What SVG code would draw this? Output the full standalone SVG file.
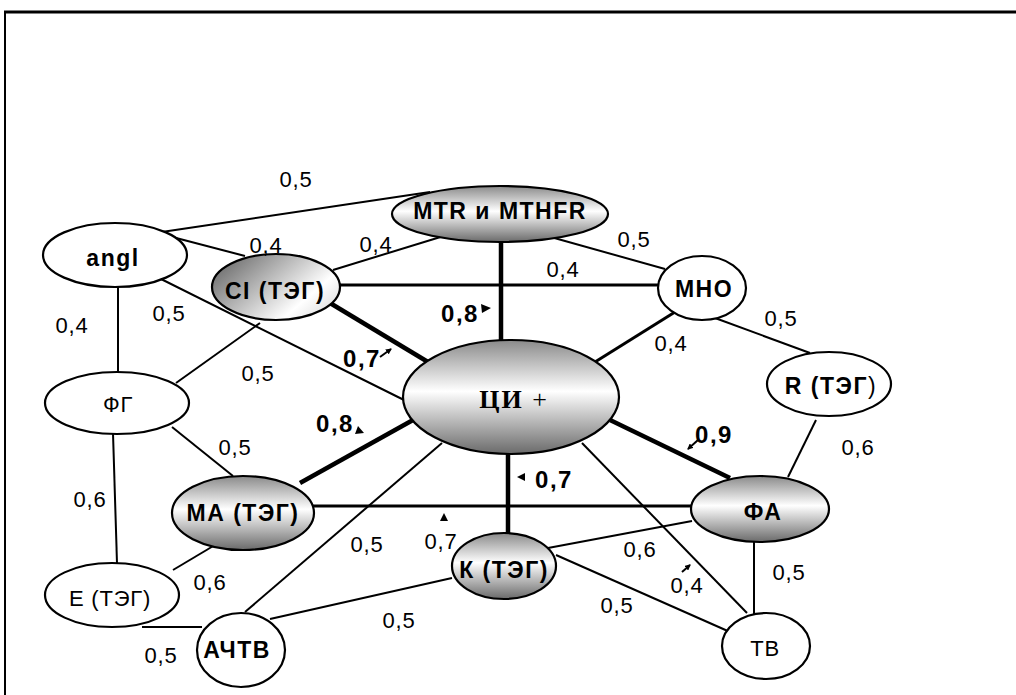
<svg xmlns="http://www.w3.org/2000/svg" width="1016" height="695" viewBox="0 0 1016 695">
<style>
.e{stroke:#000;stroke-width:2.2;fill:#fff}
.g{fill:url(#gv)}
.gc{fill:url(#gd)}
.t{font-family:"Liberation Sans",Arial,sans-serif;font-size:22px;letter-spacing:0.8px;text-anchor:middle;fill:#000}
.b{font-family:"Liberation Sans",Arial,sans-serif;font-size:23px;font-weight:bold;letter-spacing:1.5px;text-anchor:middle;fill:#000}
.w{font-family:"Liberation Sans",Arial,sans-serif;font-size:24px;font-weight:bold;letter-spacing:1.5px;text-anchor:middle;fill:#000}
.c line{stroke:#000;stroke-width:2}
.c .m{stroke-width:3}
.c .k{stroke-width:4.5}
.ar{fill:#000}
</style>
<defs>
<linearGradient id="gv" x1="0" y1="0" x2="0" y2="1">
<stop offset="0" stop-color="#8a8a8a"/>
<stop offset="0.45" stop-color="#ffffff"/>
<stop offset="1" stop-color="#6a6a6a"/>
</linearGradient>
<linearGradient id="gd" x1="0" y1="0.2" x2="1" y2="0.8">
<stop offset="0" stop-color="#6a6a6a"/>
<stop offset="0.75" stop-color="#ffffff"/>
<stop offset="1" stop-color="#dddddd"/>
</linearGradient>
<marker id="ah" markerWidth="6" markerHeight="6" refX="5" refY="3" orient="auto" markerUnits="userSpaceOnUse">
<path d="M0,0 L6,3 L0,6 Z" fill="#000"/>
</marker>
</defs>
<rect width="1016" height="695" fill="#fff"/>
<g id="frame">
<line x1="4" y1="12" x2="1016" y2="12" stroke="#000" stroke-width="3"/>
<line x1="5" y1="11" x2="5" y2="695" stroke="#000" stroke-width="2"/>
</g>
<g id="connectors" class="c">
<line x1="155" y1="233" x2="430" y2="192"/>
<line x1="157" y1="233" x2="245" y2="256"/>
<line x1="157" y1="277" x2="404" y2="400"/>
<line x1="447" y1="235" x2="333" y2="270"/>
<line x1="540" y1="234" x2="665" y2="269"/>
<line class="m" x1="330" y1="285" x2="660" y2="285"/>
<line class="k" x1="501" y1="242" x2="501" y2="341"/>
<line class="k" x1="330" y1="303" x2="428" y2="362"/>
<line class="m" x1="675" y1="312" x2="595" y2="362"/>
<line x1="715" y1="318" x2="810" y2="353"/>
<line x1="816" y1="420" x2="788" y2="477"/>
<line class="k" x1="610" y1="420" x2="730" y2="478"/>
<line x1="118" y1="287" x2="118" y2="373"/>
<line x1="260" y1="323" x2="176" y2="383"/>
<line x1="172" y1="427" x2="233" y2="476"/>
<line x1="113" y1="433" x2="117" y2="563"/>
<line x1="220" y1="542" x2="173" y2="570"/>
<line x1="142" y1="627" x2="202" y2="627"/>
<line x1="245" y1="612" x2="442" y2="443"/>
<line x1="270" y1="619" x2="452" y2="578"/>
<line class="k" x1="300" y1="483" x2="413" y2="420"/>
<line class="m" x1="312" y1="506" x2="693" y2="506"/>
<line class="k" x1="508" y1="453" x2="508" y2="535"/>
<line x1="548" y1="548" x2="692" y2="521"/>
<line x1="556" y1="555" x2="730" y2="632"/>
<line x1="582" y1="443" x2="747" y2="613"/>
<line x1="754" y1="541" x2="754" y2="614"/>
<polygon class="ar" points="481,304 491,308 482,313"/>
<line x1="380" y1="357" x2="391" y2="349" stroke-width="1.5" marker-end="url(#ah)"/>
<polygon class="ar" points="355,434 358,426 364,433"/>
<line x1="698" y1="440" x2="688" y2="449" stroke-width="1.5" marker-end="url(#ah)"/>
<polygon class="ar" points="517,477 525,473 525,481"/>
<polygon class="ar" points="440,521 444,513 448,521"/>
<line x1="682" y1="572" x2="690" y2="565" stroke-width="1.5" marker-end="url(#ah)"/>
</g>
<g id="n-angl"><ellipse class="e" cx="115" cy="255" rx="72" ry="32"/><text class="b" x="113" y="266" letter-spacing="3">angl</text></g>
<g id="n-ci"><ellipse class="e gc" cx="276" cy="287" rx="64" ry="33"/><text class="b" x="275" y="299" letter-spacing="1">CI (ТЭГ)</text></g>
<g id="n-mtr"><ellipse class="e g" cx="500" cy="214" rx="108" ry="28"/><text class="b" x="500" y="219" letter-spacing="1.8">MTR и MTHFR</text></g>
<g id="n-mho"><ellipse class="e" cx="702" cy="288" rx="44" ry="32"/><text class="b" x="704" y="297">МНО</text></g>
<g id="n-r"><ellipse class="e" cx="829" cy="384" rx="62" ry="32"/><text class="b" x="831" y="394" letter-spacing="1">R (ТЭГ<tspan font-weight="normal">)</tspan></text></g>
<g id="n-ci-plus"><ellipse class="e g" cx="511" cy="397" rx="108" ry="57"/><text x="514" y="408" font-family="'Liberation Serif','Times New Roman',serif" font-size="26" text-anchor="middle" letter-spacing="2"><tspan font-weight="bold">ЦИ</tspan> +</text></g>
<g id="n-fg"><ellipse class="e" cx="117" cy="403" rx="72" ry="31"/><text class="t" x="118" y="412">ФГ</text></g>
<g id="n-ma"><ellipse class="e g" cx="243" cy="513" rx="71" ry="37"/><text class="b" x="243" y="521" letter-spacing="0.3">МА (ТЭГ)</text></g>
<g id="n-e"><ellipse class="e" cx="112" cy="595" rx="67" ry="32"/><text class="t" x="110" y="606" letter-spacing="2">Е (ТЭГ)</text></g>
<g id="n-achtv"><ellipse class="e" cx="241" cy="650" rx="44" ry="37"/><text class="b" x="237" y="658" letter-spacing="0">АЧТВ</text></g>
<g id="n-k"><ellipse class="e g" cx="504" cy="566" rx="52" ry="33"/><text class="b" x="504" y="578" letter-spacing="0.3">К (ТЭГ)</text></g>
<g id="n-fa"><ellipse class="e g" cx="760" cy="509" rx="69" ry="33"/><text class="b" x="763" y="520">ФА</text></g>
<g id="n-tv"><ellipse class="e" cx="766" cy="646" rx="44" ry="33"/><text class="t" x="765" y="656" letter-spacing="0">ТВ</text></g>
<g id="labels">
<text class="t" x="296" y="187">0,5</text>
<text class="t" x="266" y="253">0,4</text>
<text class="t" x="376" y="252">0,4</text>
<text class="t" x="634" y="247">0,5</text>
<text class="t" x="563" y="277">0,4</text>
<text class="t" x="72" y="333">0,4</text>
<text class="t" x="169" y="321">0,5</text>
<text class="t" x="258" y="381">0,5</text>
<text class="t" x="781" y="326">0,5</text>
<text class="t" x="671" y="351">0,4</text>
<text class="t" x="858" y="455">0,6</text>
<text class="t" x="235" y="455">0,5</text>
<text class="t" x="90" y="507">0,6</text>
<text class="t" x="210" y="590">0,6</text>
<text class="t" x="161" y="663">0,5</text>
<text class="t" x="367" y="552">0,5</text>
<text class="t" x="441" y="549">0,7</text>
<text class="t" x="640" y="557">0,6</text>
<text class="t" x="687" y="593">0,4</text>
<text class="t" x="617" y="613">0,5</text>
<text class="t" x="399" y="628">0,5</text>
<text class="t" x="789" y="580">0,5</text>
<text class="w" x="460" y="322">0,8</text>
<text class="w" x="362" y="367">0,7</text>
<text class="w" x="335" y="432">0,8</text>
<text class="w" x="714" y="443">0,9</text>
<text class="w" x="554" y="488">0,7</text>
</g>
</svg>
